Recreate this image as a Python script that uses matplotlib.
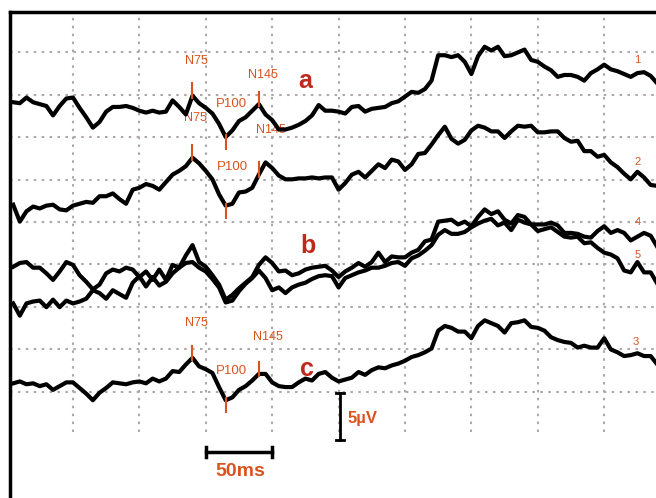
import numpy as np
import matplotlib
matplotlib.use('Agg')
import matplotlib.pyplot as plt

# VEP traces, uV relative to each trace's own baseline, one sample every 5 ms
trace1 = [0.0, -0.1, 0.5, 0.0, -0.2, -0.4, -1.4, -0.4, 0.4, 0.5, -0.6, -1.6, -2.7, -2.1, -1.0, -0.5, -0.5, -0.4, -0.6, -0.9,
          -1.1, -0.9, -1.1, -1.0, 0.2, -0.5, -1.3, 0.7, -0.1, -0.6, -1.2, -2.3, -3.7, -3.0, -2.0, -1.6, -0.9, -0.2, -1.3, -1.9,
          -2.9, -2.9, -2.7, -2.4, -2.0, -1.4, -0.3, -0.9, -0.9, -1.0, -1.2, -0.5, -0.4, -1.0, -0.7, -0.6, -0.5, -0.1, 0.1, 0.6,
          1.1, 1.0, 1.4, 2.3, 5.0, 5.0, 4.8, 5.0, 4.3, 3.0, 4.9, 5.9, 5.5, 5.9, 4.9, 5.0, 5.3, 5.6, 4.5, 4.3,
          3.8, 3.4, 2.7, 2.9, 2.9, 2.7, 2.3, 3.1, 3.5, 4.0, 3.5, 3.3, 3.0, 2.7, 3.1, 3.2, 2.8, 2.0]
trace2 = [0.0, -1.8, -0.7, -0.2, -0.4, -0.1, 0.0, -0.5, -0.6, -0.1, 0.1, 0.3, 0.2, 0.9, 0.9, 1.2, 0.6, 0.1, 1.6, 1.8,
          2.2, 2.0, 1.6, 2.4, 3.2, 3.6, 4.1, 5.0, 4.4, 3.6, 2.7, 1.1, -0.1, 0.1, 1.3, 1.4, 1.8, 3.2, 4.5, 3.9,
          3.1, 2.7, 2.7, 2.8, 2.8, 2.9, 2.8, 2.9, 2.9, 1.6, 2.3, 3.2, 3.5, 2.9, 3.6, 4.3, 3.9, 4.8, 4.6, 3.7,
          4.3, 5.4, 5.5, 6.4, 7.4, 8.3, 7.0, 6.5, 6.9, 7.9, 8.4, 8.2, 7.8, 7.8, 7.1, 7.8, 8.4, 8.3, 8.4, 7.7,
          7.7, 7.8, 7.8, 7.1, 6.7, 6.8, 5.7, 5.7, 5.1, 5.3, 4.5, 4.0, 3.3, 2.7, 3.5, 2.9, 2.1, 2.0]
trace4 = [0.0, 0.4, 0.5, -0.1, -0.1, -0.7, -1.4, -0.5, 0.5, 0.2, -0.9, -1.6, -2.4, -1.9, -0.7, -0.3, -0.5, -0.1, -0.3, -1.1,
          -0.5, -1.4, -0.3, -1.4, 0.2, -0.1, 1.2, 2.3, 0.5, 0.0, -0.9, -1.9, -3.5, -3.0, -2.3, -1.7, -1.1, 0.2, 1.0, 0.4,
          -0.5, -0.4, -0.9, -0.7, -0.3, -0.1, 0.0, 0.1, -0.4, -1.1, -0.5, -0.1, 0.4, 0.0, 0.5, 1.5, 0.5, 1.1, 1.0, 1.0,
          1.5, 1.8, 2.7, 2.9, 4.8, 4.9, 5.0, 4.5, 4.8, 4.3, 5.3, 6.1, 5.6, 5.9, 5.0, 4.6, 5.5, 5.3, 4.5, 4.5,
          4.5, 4.7, 4.4, 3.6, 3.6, 3.5, 3.2, 3.1, 3.8, 4.3, 3.6, 3.9, 3.6, 2.8, 3.2, 3.6, 3.3, 2.1]
trace5 = [0.0, -1.3, 0.0, 0.2, 0.3, -0.4, 0.4, -0.4, 0.3, 0.0, 0.2, 0.5, 1.4, 1.1, 0.5, 1.4, 1.0, 0.6, 2.2, 2.9,
          1.8, 2.8, 1.9, 2.3, 3.2, 3.8, 4.3, 4.4, 3.8, 3.4, 2.6, 1.7, 0.1, 0.3, 1.3, 2.1, 2.7, 3.5, 2.7, 1.4,
          1.7, 1.1, 1.7, 2.0, 2.2, 2.6, 2.9, 3.0, 2.9, 1.7, 2.7, 3.0, 3.3, 3.5, 3.8, 3.8, 4.0, 4.3, 4.4, 4.0,
          4.8, 5.1, 5.6, 6.2, 7.3, 7.8, 7.4, 7.4, 7.6, 8.1, 8.5, 8.8, 9.0, 8.3, 8.6, 7.8, 8.9, 8.6, 8.4, 7.7,
          7.9, 8.1, 7.6, 7.1, 7.0, 7.1, 6.4, 6.5, 5.9, 5.4, 5.2, 4.8, 3.5, 3.3, 4.4, 3.3, 3.3, 2.1]
trace3 = [0.0, 0.2, -0.1, 0.0, -0.3, -0.1, -0.7, -0.3, 0.1, 0.1, -0.5, -1.1, -1.8, -1.0, -0.5, 0.1, 0.0, -0.1, 0.1, 0.2,
          0.0, 0.5, 0.2, 0.5, 1.3, 1.2, 2.0, 2.7, 1.8, 1.5, 1.1, -0.4, -1.8, -1.5, -0.7, -0.3, 0.3, 1.0, 1.0, 0.1,
          -0.3, -0.4, -0.4, 0.1, 0.5, 0.3, 1.0, 1.2, 0.6, 0.2, 0.4, 0.6, 1.2, 0.9, 1.4, 1.7, 1.6, 1.9, 2.1, 2.4,
          2.8, 3.0, 3.3, 3.7, 5.6, 6.1, 5.9, 5.5, 5.5, 4.8, 6.1, 6.7, 6.4, 6.1, 5.4, 6.4, 6.5, 6.7, 6.0, 5.9,
          5.6, 4.9, 4.6, 4.4, 4.3, 3.8, 4.0, 3.8, 3.8, 4.8, 3.6, 3.3, 2.9, 3.0, 3.2, 2.9, 2.9, 2.0]

trace_names = ['1', '2', '4', '5', '3']
baselines = [42.1, 31.2, 24.6, 20.7, 12.2]   # uV, where each trace starts
traces = [trace1, trace2, trace4, trace5, trace3]

# peak markers (ms) for the labelled traces a (1), 2 and c (3)
n75_ms, p100_ms, n145_ms = 140, 165, 190

orange = '#d9531e'
red = '#c0281c'
narrow = ['Liberation Sans Narrow', 'Liberation Sans', 'DejaVu Sans']
plain = ['Liberation Sans', 'DejaVu Sans']

fig = plt.figure(figsize=(6.56, 4.98), dpi=100)
ax = fig.add_axes([10 / 656, 0, 1 - 10 / 656, 486 / 498])
ax.set_xlim(2.6, 489.0)
ax.set_ylim(0, 51.7)

# dotted paper grid
for gx in np.arange(50, 451, 50):
    ax.plot([gx, gx], [7.0, 51.7], color='#b0a8a8', lw=1.5, ls=(0, (1.2, 2.6)), zorder=1)
for gy in 11.28 + 4.52 * np.arange(9):
    ax.plot([2.6, 489.0], [gy, gy], color='#b0a8a8', lw=1.5, ls=(0, (1.2, 2.6)), zorder=1)

# text labels sit under the traces
def lab(x, y, s, size=9, color=orange, weight='normal', family=narrow):
    ax.text(x, y, s, fontsize=size, color=color, fontweight=weight, family=family,
            ha='center', va='center', zorder=2)

lab(143, 46.5, 'N75')
lab(193, 45.0, 'N145')
lab(169, 41.9, 'P100', size=9.5)
lab(142, 40.4, 'N75')
lab(199, 39.1, 'N145')
lab(170, 35.2, 'P100', size=9.5)
lab(143, 18.6, 'N75')
lab(197, 17.1, 'N145')
lab(169, 13.5, 'P100', size=9.5)
lab(225, 44.4, 'a', size=18, color=red, weight='bold', family=plain)
lab(227, 26.8, 'b', size=18, color=red, weight='bold', family=plain)
lab(226, 13.7, 'c', size=18, color=red, weight='bold', family=plain)

for name, base, tr in zip(trace_names, baselines, traces):
    t = np.arange(len(tr)) * 5 + 5
    y = base + np.array(tr)
    ax.plot(t, y, color='black', lw=3.0, solid_joinstyle='round', zorder=3)

# small peak ticks on traces 1, 2, 3
for base, tr in [(baselines[0], trace1), (baselines[1], trace2), (baselines[4], trace3)]:
    for ms, up in [(n75_ms, True), (p100_ms, False), (n145_ms, True)]:
        v = base + tr[ms // 5 - 1]
        if up:
            ax.plot([ms, ms], [v - 0.2, v + 1.3], color=orange, lw=1.5, zorder=4)
        else:
            ax.plot([ms, ms], [v - 1.3, v + 0.2], color=orange, lw=1.5, zorder=4)

# trace numbers at the right
for name, (x, y) in zip(['1', '2', '4', '5', '3'],
                        [(475, 46.6), (475, 35.7), (475, 29.4), (475, 25.9), (474, 16.6)]):
    lab(x, y, name, size=8)

# scale bars
ax.plot([251, 251], [6.17, 11.17], color='black', lw=2, zorder=3)
ax.plot([248, 254], [6.17, 6.17], color='black', lw=2, zorder=3)
ax.plot([248, 254], [11.17, 11.17], color='black', lw=2, zorder=3)
ax.text(257, 8.5, '5\u00b5V', fontsize=12, color=orange, fontweight='bold',
        family=plain, ha='left', va='center')
ax.plot([150, 200], [4.9, 4.9], color='black', lw=2.5, zorder=3)
ax.plot([150, 150], [4.4, 5.4], color='black', lw=2.5, zorder=3)
ax.plot([200, 200], [4.4, 5.4], color='black', lw=2.5, zorder=3)
lab(175.7, 2.8, '50ms', size=14, weight='bold', family=narrow)

ax.set_xticks([])
ax.set_yticks([])
ax.spines['right'].set_visible(False)
ax.spines['bottom'].set_visible(False)
ax.spines['left'].set_linewidth(2.5)
ax.spines['top'].set_linewidth(2.5)

fig.savefig('out.png', dpi=100)
